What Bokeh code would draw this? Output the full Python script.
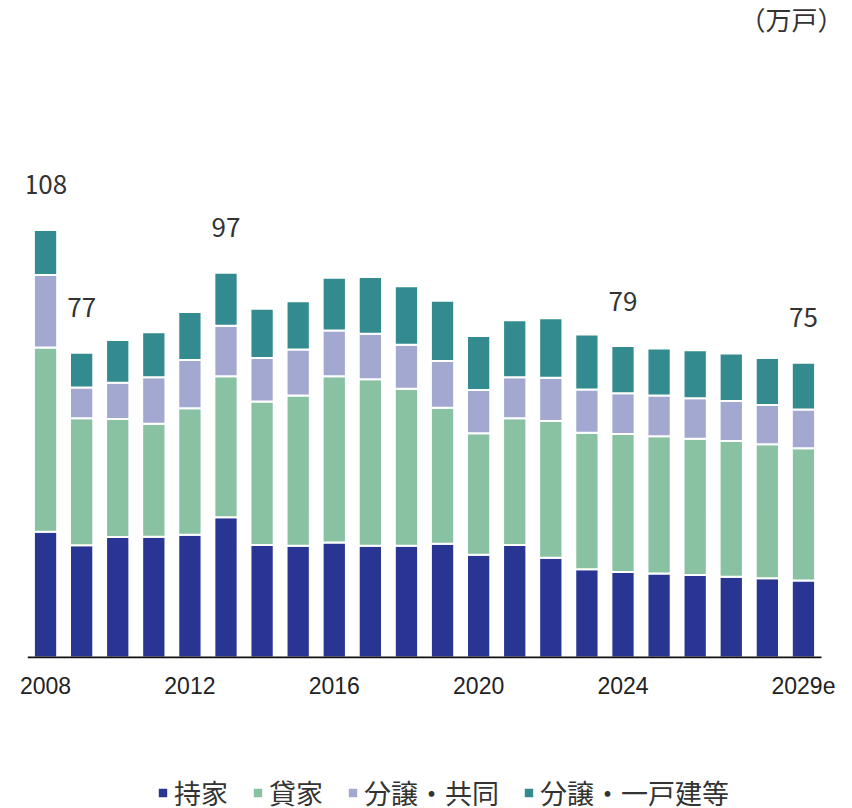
from bokeh.plotting import figure
from bokeh.layouts import column
from bokeh.models import Range1d, FixedTicker, Legend, LegendItem, Label, ColumnDataSource
from bokeh.core.properties import value
from bokeh.embed import file_html
from bokeh.resources import INLINE

# ---- data (万戸) ----
years = list(range(2008, 2030))
mochiie = [31.7, 28.3, 30.4, 30.5, 31.0, 35.4, 28.4, 28.2, 29.0, 28.2, 28.2,
           28.7, 25.9, 28.4, 25.2, 22.3, 21.6, 21.2, 20.8, 20.4, 20.0, 19.4]
kashiya = [46.5, 32.1, 29.8, 28.5, 31.9, 35.6, 36.2, 37.9, 42.0, 42.0, 39.6,
           34.3, 30.7, 32.0, 34.5, 34.4, 34.8, 34.6, 34.4, 34.2, 33.8, 33.4]
bunjo_kyodo = [18.3, 7.7, 9.1, 11.7, 12.2, 12.7, 11.0, 11.6, 11.5, 11.5, 11.1,
               11.8, 10.9, 10.3, 10.9, 10.9, 10.3, 10.3, 10.2, 10.1, 9.9, 9.8]
bunjo_kodate = [11.4, 8.8, 10.8, 11.4, 12.1, 13.4, 12.4, 12.2, 13.3, 14.3, 14.8,
                15.2, 13.6, 14.4, 15.0, 13.9, 11.9, 11.9, 12.1, 12.0, 11.9, 11.8]
series_names = ["持家", "貸家", "分譲・共同", "分譲・一戸建等"]
colors = ["#283593", "#88c2a3", "#a3a8d1", "#338b8f"]
tick_years = [2008, 2012, 2016, 2020, 2024, 2029]
tick_labels = ["2008", "2012", "2016", "2020", "2024", "2029e"]
label_years = [2008, 2009, 2013, 2024, 2029]
label_texts = ["108", "77", "97", "79", "75"]
unit_text = "（万戸）"

keys = ["mochiie", "kashiya", "bunjo_kyodo", "bunjo_kodate"]
src = ColumnDataSource(dict(year=years, mochiie=mochiie, kashiya=kashiya,
                            bunjo_kyodo=bunjo_kyodo, bunjo_kodate=bunjo_kodate))

totals = {y: a + b + c + d for y, a, b, c, d in zip(years, mochiie, kashiya, bunjo_kyodo, bunjo_kodate)}
label_tops = [totals[y] for y in label_years]

CJK = "Noto Sans CJK JP"
TEXT_COLOR = "#333333"
W, H = 852, 808
PX_PER_UNIT = 3.963      # vertical pixels per 万戸
PX_PER_YEAR = 36.09      # horizontal pixels per year slot
BASE_Y = 657             # pixel row of the zero line
FRAME_LEFT = 27
RIGHT_GAP = 31           # pixels between last slot edge and the page edge
MAIN_H = 748

x_start = years[0] - 0.5
x_end = years[-1] + 0.5 + RIGHT_GAP / PX_PER_YEAR
p = figure(width=W, height=MAIN_H,
           x_range=Range1d(x_start, x_end),
           y_range=Range1d(-1 / PX_PER_UNIT, BASE_Y / PX_PER_UNIT),
           output_backend="svg", toolbar_location=None, y_axis_location=None,
           min_border_left=FRAME_LEFT, min_border_right=0, min_border_top=0,
           min_border_bottom=MAIN_H - (BASE_Y + 1))
p.outline_line_color = None
p.xgrid.visible = False
p.ygrid.visible = False

rs = p.vbar_stack(keys, x="year", width=0.645, fill_color=colors,
                  line_color="white", line_width=2, source=src)

# baseline spanning the bar slots only
p.line(x=[years[0] - 0.5, years[-1] + 0.5], y=[0, 0], line_color="#111111", line_width=2)

# axis (labels only)
ax = p.xaxis[0]
ax.ticker = FixedTicker(ticks=tick_years)
ax.major_label_overrides = dict(zip(tick_years, tick_labels))
ax.axis_line_color = None
ax.major_tick_line_color = None
ax.minor_tick_line_color = None
ax.major_tick_out = 0
ax.major_tick_in = 0
ax.major_label_text_font = "Liberation Sans"
ax.major_label_text_font_size = "23px"
ax.major_label_text_color = "#222222"
ax.major_label_standoff = 18

# total labels
p.text(x=label_years, y=label_tops, text=label_texts, text_align="center",
       text_baseline="alphabetic", y_offset=-45,
       text_font=value(CJK), text_font_size="26px", text_color=TEXT_COLOR)

# unit label, top right
p.add_layout(Label(x=x_end, x_offset=-9, y=(BASE_Y - 17.5) / PX_PER_UNIT,
                   text=unit_text, text_align="right", text_baseline="middle",
                   text_font=CJK, text_font_size="26px", text_color=TEXT_COLOR))

# ---- legend strip ----
LEG_H = H - MAIN_H
lf = figure(width=W, height=LEG_H, x_range=Range1d(0, 1), y_range=Range1d(0, 1),
            output_backend="svg", toolbar_location=None,
            x_axis_location=None, y_axis_location=None,
            min_border_left=0, min_border_right=0, min_border_top=0, min_border_bottom=0)
lf.outline_line_color = None
lf.xgrid.visible = False
lf.ygrid.visible = False
# legend proxies: one bar each, placed fully outside the visible ranges
dummies = [lf.vbar(x=[-5], bottom=[-6], top=[-5], width=0.5, fill_color=c,
                   line_color="white", line_width=2)
           for c in colors]
legend = Legend(items=[LegendItem(label=n, renderers=[r]) for n, r in zip(series_names, dummies)],
                orientation="horizontal", location=(129, -4),
                glyph_width=13, glyph_height=13, label_standoff=5, spacing=23,
                padding=0, margin=0, border_line_color=None,
                background_fill_alpha=0,
                label_text_font=CJK, label_text_font_size="27px",
                label_text_color=TEXT_COLOR)
lf.add_layout(legend)

layout = column(p, lf, spacing=0)
open("out.html", "w").write(file_html(layout, INLINE))
